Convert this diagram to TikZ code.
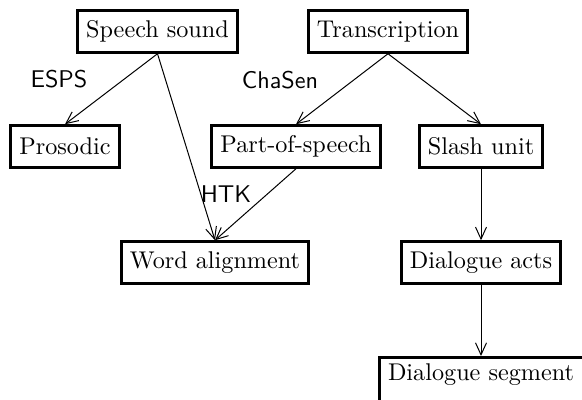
\documentclass[tikz,border=0pt]{standalone}
\usepackage{graphicx}
\usetikzlibrary{arrows.meta}
% magnified 10pt design text
\newcommand\bigtxt[1]{\scalebox{1.21}{#1}}
\begin{document}
\begin{tikzpicture}[x=0.5pt,y=-0.5pt,
  box/.style={draw,line width=1.5pt,inner xsep=4.25pt,inner ysep=0pt,
    minimum height=20.75pt,anchor=center},
  link/.style={line width=0.5pt,-{Straight Barb[length=6pt,width=5.5pt,line width=0.5pt]}},
  tool/.style={font=\sffamily,inner sep=0pt}]
  \useasboundingbox (0,0) rectangle (582,400);
  \clip (0,0) rectangle (582,400);
  % sources
  \node[box] (speech) at (157.5,31.5) {\bigtxt{Speech sound}};
  \node[box] (trans)  at (388,31.5) {\bigtxt{Transcription}};
  % first-level products
  \node[box] (pros)   at (65,146.5) {\bigtxt{Prosodic}};
  \node[box] (pos)    at (296,146.5) {\bigtxt{Part-of-speech}};
  \node[box] (slash)  at (481,146.5) {\bigtxt{Slash unit}};
  % derived layers
  \node[box] (word)   at (215,262.5) {\bigtxt{Word alignment}};
  \node[box] (acts)   at (481,262.5) {\bigtxt{Dialogue acts}};
  \node[box,text width=96pt,align=left,minimum height=22.5pt,text height=8pt,text depth=8pt]
    (seg) at (484,380) {\bigtxt{Dialogue segment}};
  % tool labels
  \node[tool] (esps)   at (59,79) {\bigtxt{ESPS}};
  \node[tool] (chasen) at (280,80) {\bigtxt{ChaSen}};
  \node[tool] (htk)    at (226,194) {\bigtxt{HTK}};
  % connectors
  \draw[link] (speech.south) -- (pros.north);
  \draw[link] (speech.south) -- (word.north);
  \draw[link] (pos.south) -- (word.north);
  \draw[link] (trans.south) -- (pos.north);
  \draw[link] (trans.south) -- (slash.north);
  \draw[link] (slash.south) -- (acts.north);
  \draw[link] (acts.south) -- (acts.south |- seg.north);
\end{tikzpicture}
\end{document}
